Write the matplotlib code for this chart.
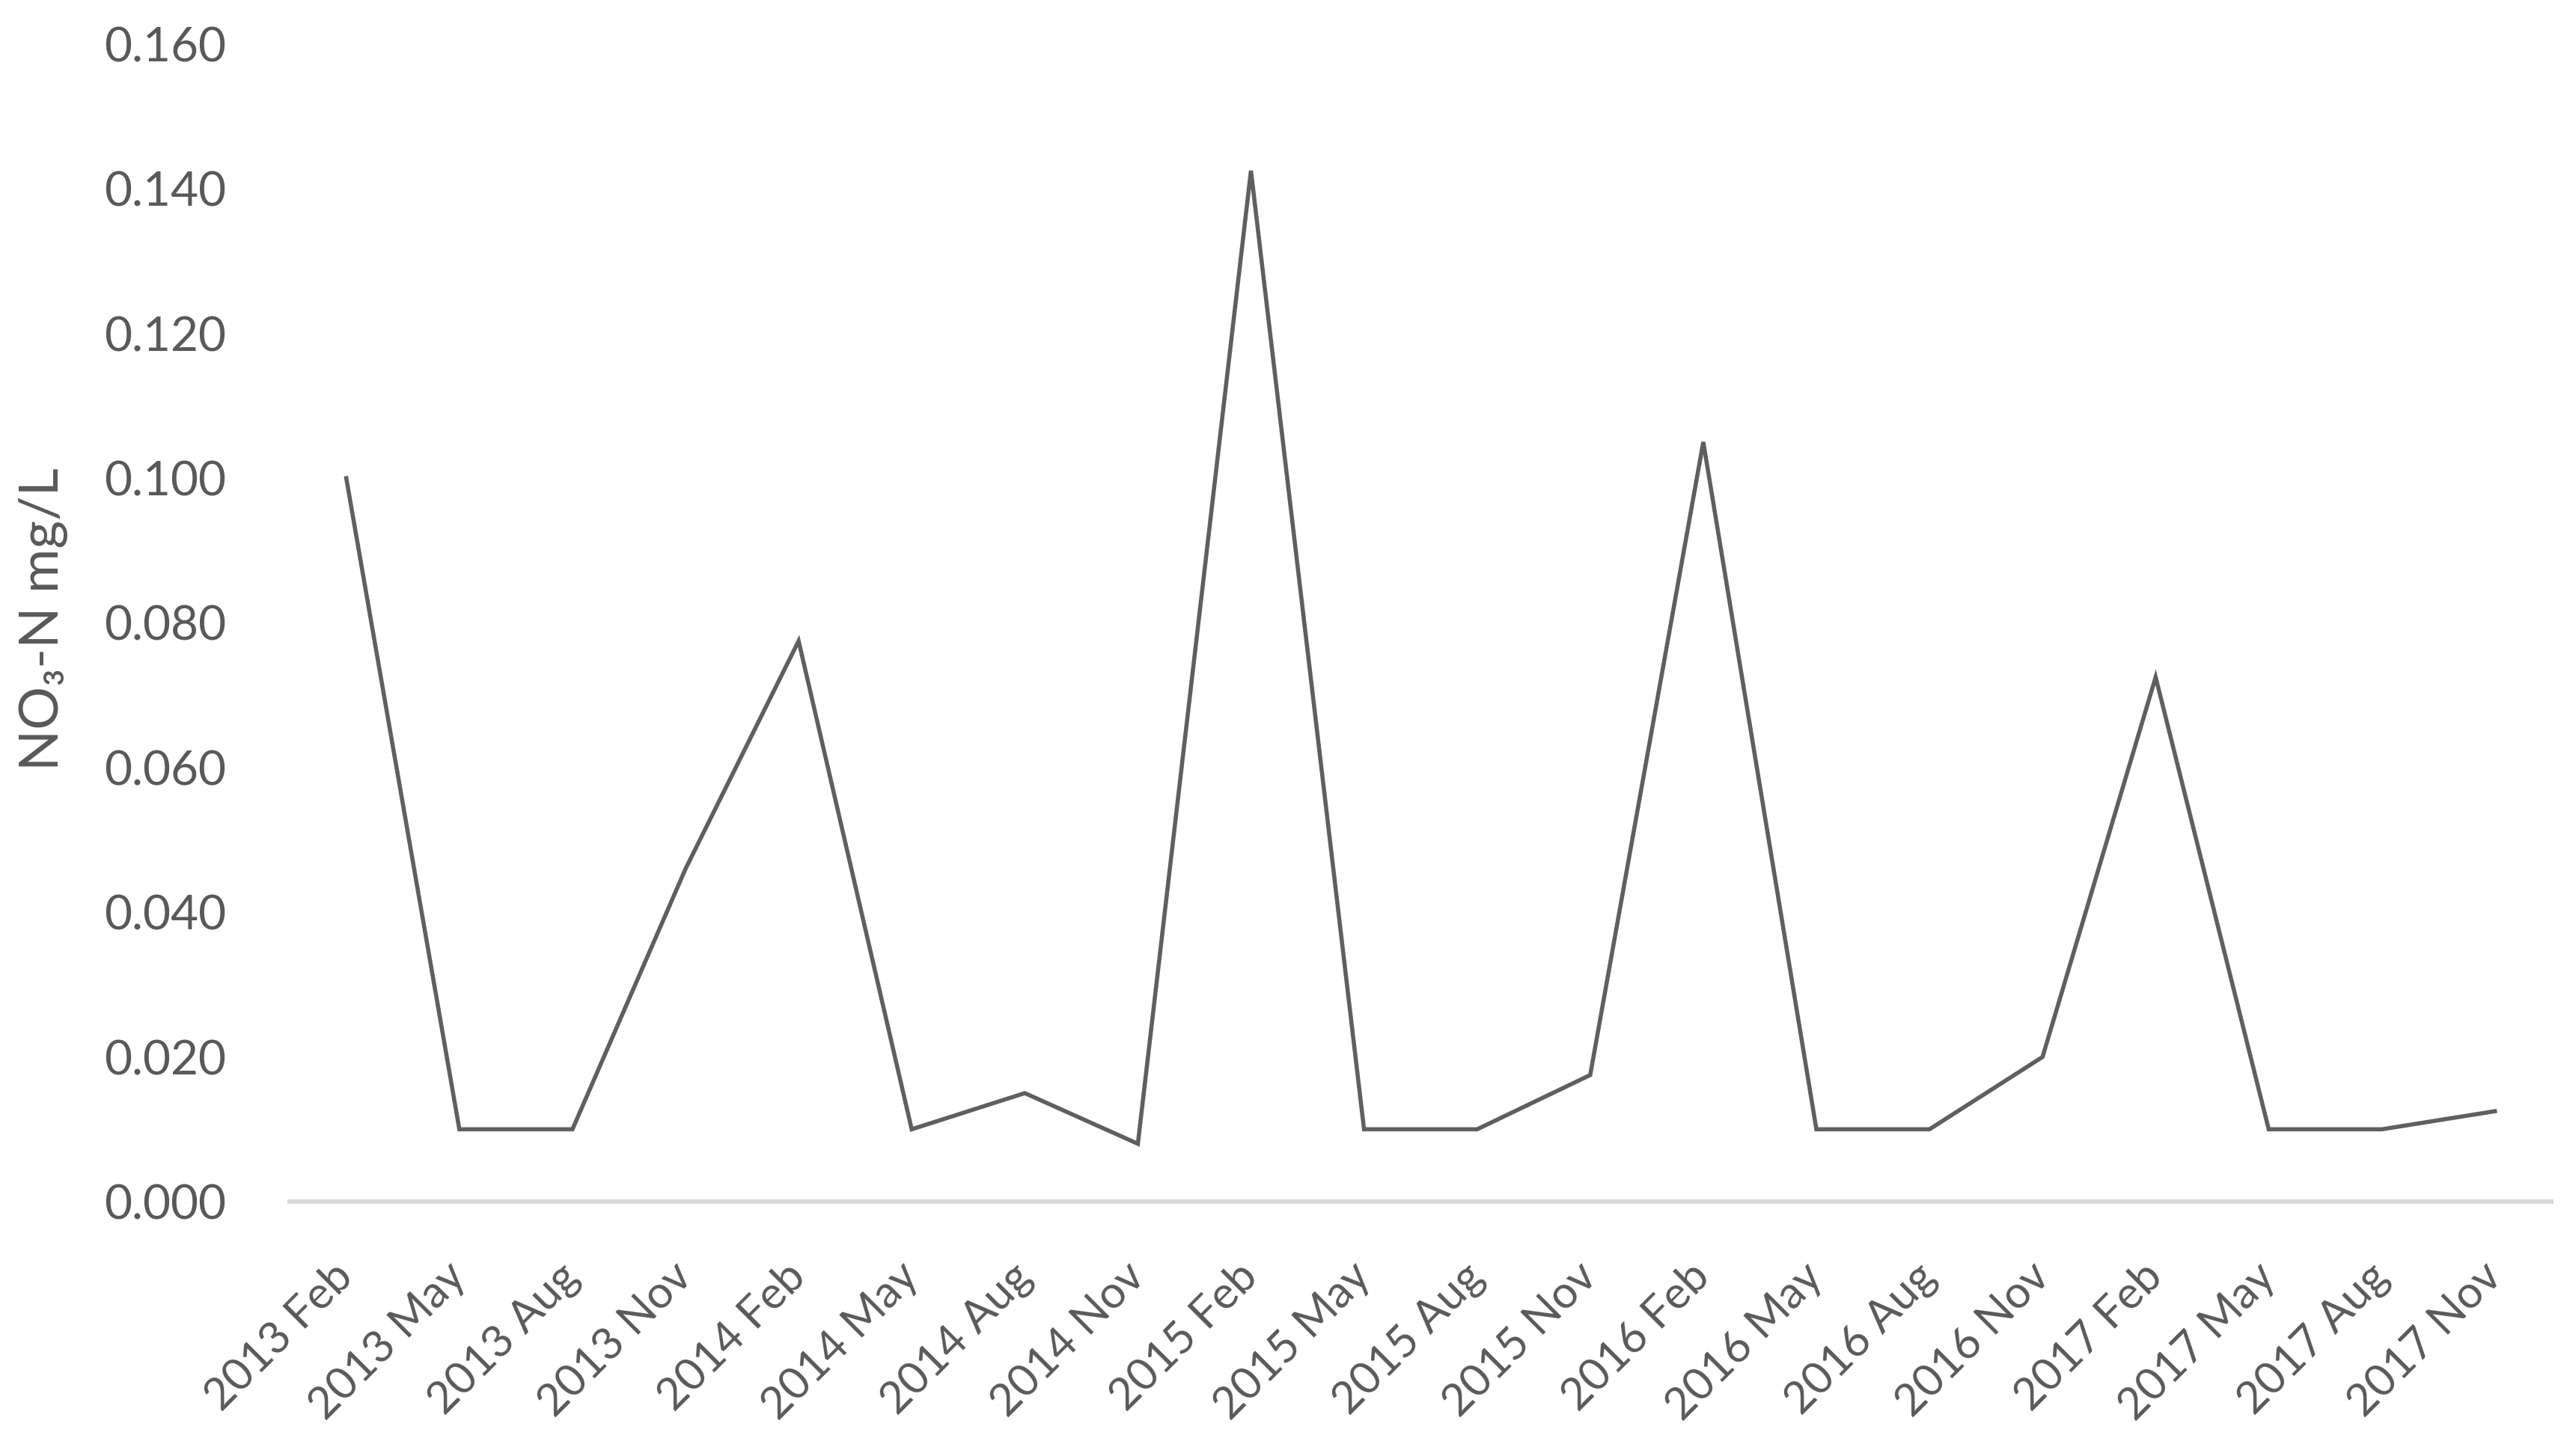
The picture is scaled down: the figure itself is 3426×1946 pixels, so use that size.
import matplotlib
matplotlib.use("Agg")
import matplotlib.pyplot as plt
from matplotlib.transforms import ScaledTranslation

plt.rcParams["font.family"] = ["Lato", "DejaVu Sans"]

# sampling dates and NO3-N concentration (mg/L)
dates = [
    "2013 Feb", "2013 May", "2013 Aug", "2013 Nov",
    "2014 Feb", "2014 May", "2014 Aug", "2014 Nov",
    "2015 Feb", "2015 May", "2015 Aug", "2015 Nov",
    "2016 Feb", "2016 May", "2016 Aug", "2016 Nov",
    "2017 Feb", "2017 May", "2017 Aug", "2017 Nov",
]
no3_n = [
    0.100, 0.010, 0.010, 0.046,
    0.0775, 0.010, 0.015, 0.008,
    0.1425, 0.010, 0.010, 0.0175,
    0.105, 0.010, 0.010, 0.020,
    0.0725, 0.010, 0.010, 0.0125,
]
y_ticks = [0.000, 0.020, 0.040, 0.060, 0.080, 0.100, 0.120, 0.140, 0.160]

text_col = "#595959"

fig = plt.figure(figsize=(34.26, 19.46), dpi=100)
ax = fig.add_axes([0.113, 0.1747, 0.8821, 0.7950])

x = list(range(len(dates)))
ax.plot(x, no3_n, color="#5f5f5f", linewidth=4.0, solid_joinstyle="miter")

ax.set_xlim(-0.5, len(dates) - 0.5)
ax.set_ylim(0, 0.16)
ax.set_yticks(y_ticks)
ax.set_yticklabels([f"{v:.3f}" for v in y_ticks])
ax.set_xticks(x)
ax.set_xticklabels(dates, rotation=45, ha="right", va="center",
                   rotation_mode="anchor")

for lab in ax.get_xticklabels():
    lab.set_transform(lab.get_transform() + ScaledTranslation(0.24, 0, fig.dpi_scale_trans))

ax.tick_params(axis="y", length=0, pad=61, labelsize=46, labelcolor=text_col)
ax.tick_params(axis="x", length=0, pad=66, labelsize=43, labelcolor=text_col)

for side in ["top", "right", "left"]:
    ax.spines[side].set_visible(False)
ax.spines["bottom"].set_color("#d9d9d9")
ax.spines["bottom"].set_linewidth(4.3)

fig.text(0.0169, 1 - 828 / 1946, "NO₃-N mg/L", rotation=90, ha="center",
         va="center", fontsize=52, color=text_col)

fig.savefig("out.png", dpi=100)
